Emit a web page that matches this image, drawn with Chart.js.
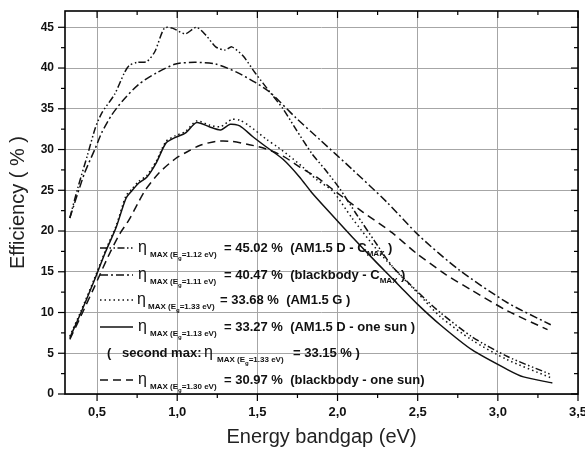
<!DOCTYPE html>
<html>
<head>
<meta charset="utf-8">
<script src="https://cdn.jsdelivr.net/npm/chart.js@4.4.1/dist/chart.umd.min.js"></script>
<style>
  html, body { margin: 0; padding: 0; background: #fff; }
</style>
</head>
<body>
<canvas id="myChart" width="585" height="451"></canvas>
<script>
// values: bandgap (eV) / efficiency (%)
const egAM15DCmax = [0.33,0.38,0.44,0.49,0.53,0.61,0.67,0.70,0.75,0.81,0.86,0.92,0.97,1.05,1.12,1.18,1.24,1.30,1.34,1.41,1.49,1.58,1.66,1.74,1.84,1.92,2.01,2.12,2.23,2.34,2.45,2.55,2.64,2.84,3.06,3.33]
const effAM15DCmax = [21.6,25.3,29.3,32.7,34.5,36.8,39.4,40.3,40.7,40.8,42.0,44.9,44.9,44.2,45.0,44.0,42.6,42.2,42.6,41.5,39.3,37.0,35.0,32.5,29.5,27.6,25.3,22.0,18.8,15.7,13.5,11.6,10.0,7.0,4.6,2.4]

const egBBCmax = [0.33,0.42,0.49,0.53,0.59,0.66,0.76,0.87,0.99,1.11,1.24,1.37,1.49,1.58,1.74,1.89,2.09,2.31,2.51,2.76,3.06,3.33]
const effBBCmax = [21.6,27.0,30.2,32.1,34.2,36.0,38.0,39.4,40.5,40.7,40.5,39.5,38.2,37.0,33.9,31.2,27.6,23.5,19.4,15.2,11.2,8.5]

const egAM15G = [0.33,0.40,0.48,0.55,0.62,0.68,0.72,0.76,0.81,0.87,0.93,0.99,1.05,1.12,1.20,1.27,1.34,1.39,1.45,1.56,1.62,1.70,1.78,1.87,1.97,2.09,2.25,2.39,2.50,2.64,2.84,3.06,3.33]
const effAM15G = [7.1,10.2,14.0,17.5,20.7,24.3,25.2,26.1,26.8,28.6,31.0,31.7,32.2,33.5,33.0,32.8,33.7,33.6,32.9,31.2,30.4,29.2,27.9,26.3,24.9,21.6,17.6,14.6,12.4,9.5,6.6,4.2,2.0]

const egAM15D1sun = [0.33,0.40,0.48,0.55,0.62,0.68,0.72,0.76,0.81,0.87,0.93,0.99,1.05,1.12,1.20,1.27,1.33,1.39,1.47,1.55,1.66,1.76,1.84,1.95,2.09,2.25,2.39,2.50,2.64,2.84,3.06,3.16,3.34]
const effAM15D1sun = [6.9,10.0,13.8,17.3,20.5,24.0,25.0,25.9,26.6,28.4,30.8,31.5,32.0,33.3,32.8,32.4,33.1,32.9,31.6,30.4,28.8,26.7,24.7,22.3,19.3,16.0,13.2,11.0,8.5,5.4,3.0,2.1,1.35]

const egBB1sun = [0.33,0.40,0.48,0.57,0.64,0.70,0.76,0.80,0.89,0.99,1.06,1.14,1.24,1.34,1.45,1.55,1.66,1.76,1.87,1.99,2.16,2.34,2.49,2.68,2.84,3.06,3.31]
const effBB1sun = [6.7,9.6,13.0,16.9,19.6,21.4,23.6,25.0,27.2,28.9,29.7,30.5,31.0,31.0,30.6,30.1,29.2,27.9,26.6,24.8,22.3,19.8,17.3,14.6,12.7,10.2,7.9]

const xMajorTicks = [0.5,1.0,1.5,2.0,2.5,3.0,3.5]
const xTickLabels = ['0,5','1,0','1,5','2,0','2,5','3,0','3,5']
const xMinorTicks = [0.75,1.25,1.75,2.25,2.75,3.25]
const yMajorTicks = [0,5,10,15,20,25,30,35,40,45]
const yTickLabels = ['0','5','10','15','20','25','30','35','40','45']
const yMinorTicks = [2.5,7.5,12.5,17.5,22.5,27.5,32.5,37.5,42.5]

// legend texts
const legendEg = ['1.12','1.11','1.33','1.13','1.33','1.30']
const legendEta = ['45.02','40.47','33.68','33.27','33.15','30.97']

const pts = (xs, ys) => xs.map((x, i) => ({x: x, y: ys[i]}))

const dashDotDot = [7,2.5,1.5,2.5,1.5,2.5]
const dashDot = [8,3,2,3]
const dotted = [1.5,3]
const dashed = [8,5]

const lineDs = (label, data, dash) => ({
  label: label, data: data, borderColor: '#111', borderWidth: 1.5,
  borderDash: dash, pointRadius: 0, tension: 0.25, fill: false
})

const data = {
  datasets: [
    lineDs('AM1.5 D - Cmax', pts(egAM15DCmax, effAM15DCmax), dashDotDot),
    lineDs('blackbody - Cmax', pts(egBBCmax, effBBCmax), dashDot),
    lineDs('AM1.5 G', pts(egAM15G, effAM15G), dotted),
    lineDs('AM1.5 D - one sun', pts(egAM15D1sun, effAM15D1sun), []),
    lineDs('blackbody - one sun', pts(egBB1sun, effBB1sun), dashed)
  ]
}

const FONT = '"Liberation Sans", Arial, sans-serif'
const bold = s => 'bold ' + s + 'px ' + FONT

function seq(ctx, x, y, parts) {
  parts.forEach(p => {
    ctx.font = p[1]
    ctx.fillText(p[0], x, y + (p[2] || 0))
    x += ctx.measureText(p[0]).width
  })
  return x
}

function etaSub(ctx, x, y, eg) {
  return seq(ctx, x, y, [['MAX (E', bold(8), 7], ['g', bold(6), 10], ['=' + eg + ' eV)', bold(8), 7]])
}

const legendPlugin = {
  id: 'legendBox',
  afterDraw(chart) {
    const ctx = chart.ctx
    ctx.save()
    ctx.fillStyle = '#111'
    ctx.textBaseline = 'middle'
    const rowY = [248, 275, 300, 327, 353, 380]
    const rowDs = [0, 1, 2, 3, null, 4]
    const tails = [
      [['= ' + legendEta[0] + ' %  (AM1.5 D - C', bold(13)], ['MAX', bold(8), 6], [' )', bold(13)]],
      [['= ' + legendEta[1] + ' %  (blackbody - C', bold(13)], ['MAX', bold(8), 6], [' )', bold(13)]],
      [['= ' + legendEta[2] + ' %  (AM1.5 G )', bold(13)]],
      [['= ' + legendEta[3] + ' %  (AM1.5 D - one sun )', bold(13)]],
      [['= ' + legendEta[4] + ' % )', bold(13)]],
      [['= ' + legendEta[5] + ' %  (blackbody - one sun)', bold(13)]]
    ]
    rowY.forEach((y, i) => {
      const di = rowDs[i]
      if (di !== null) {
        const ds = chart.data.datasets[di]
        ctx.strokeStyle = '#111'
        ctx.lineWidth = 1.5
        ctx.setLineDash(ds.borderDash)
        ctx.beginPath(); ctx.moveTo(100, y); ctx.lineTo(133, y); ctx.stroke()
        ctx.setLineDash([])
      }
      if (i === 4) {
        seq(ctx, 107, y, [['(', bold(13)]])
        seq(ctx, 122, y, [['second max:', bold(13)]])
        seq(ctx, 204, y, [['\u03b7', '16px ' + FONT]])
        etaSub(ctx, 217, y, legendEg[i])
        seq(ctx, 293, y, tails[i])
      } else {
        const ex = i === 2 ? 137 : 138
        seq(ctx, ex, y, [['\u03b7', '16px ' + FONT]])
        etaSub(ctx, i === 2 ? 148 : 150, y, legendEg[i])
        seq(ctx, i === 2 ? 220 : 224, y, tails[i])
      }
    })
    ctx.restore()
  }
}

const framePlugin = {
  id: 'frame',
  afterDraw(chart) {
    const {ctx, chartArea: a, scales: {x, y}} = chart
    ctx.save()
    ctx.strokeStyle = '#000'
    ctx.lineWidth = 1.2
    const seg = (x1, y1, x2, y2) => { ctx.beginPath(); ctx.moveTo(x1, y1); ctx.lineTo(x2, y2); ctx.stroke() }
    xMajorTicks.forEach(v => { const p = x.getPixelForValue(v); seg(p, a.bottom, p, a.bottom + 7); seg(p, a.top, p, a.top + 7) })
    xMinorTicks.forEach(v => { const p = x.getPixelForValue(v); seg(p, a.bottom, p, a.bottom + 4); seg(p, a.top, p, a.top + 4) })
    yMajorTicks.forEach(v => { const p = y.getPixelForValue(v); seg(a.left - 7, p, a.left, p); seg(a.right - 7, p, a.right, p) })
    yMinorTicks.forEach(v => { const p = y.getPixelForValue(v); seg(a.left - 4, p, a.left, p); seg(a.right - 4, p, a.right, p) })
    ctx.lineWidth = 1.6
    ctx.strokeRect(a.left, a.top, a.right - a.left, a.bottom - a.top)
    ctx.restore()
  }
}

// drop the label overhang padding so the plot box sits where the original one does
const noPad = s => { s.paddingTop = 0; s.paddingBottom = 0; s.paddingLeft = 0; s.paddingRight = 0 }

const config = {
  type: 'line',
  data: data,
  options: {
    responsive: false,
    animation: false,
    layout: { padding: { left: 0, right: 7, top: 11, bottom: 0 } },
    plugins: { legend: { display: false }, tooltip: { enabled: false } },
    scales: {
      x: {
        type: 'linear', min: 0.3, max: 3.5,
        afterBuildTicks: s => { s.ticks = xMajorTicks.map(v => ({value: v})) },
        afterFit: s => { s.height = 57; noPad(s) },
        grid: { color: '#a6a6a6', lineWidth: 1, drawTicks: false },
        border: { display: false },
        ticks: { color: '#111', font: { family: FONT, size: 13, weight: 'bold' }, padding: 11, maxRotation: 0,
          callback: (v, i) => xTickLabels[i] },
        title: { display: true, text: 'Energy bandgap (eV)', color: '#222',
          font: { family: FONT, size: 20 }, padding: { top: 0, bottom: 2 } }
      },
      y: {
        min: 0, max: 47,
        afterBuildTicks: s => { s.ticks = yMajorTicks.map(v => ({value: v})) },
        afterFit: s => { s.width = 65; noPad(s) },
        grid: { color: '#a6a6a6', lineWidth: 1, drawTicks: false },
        border: { display: false },
        ticks: { color: '#111', font: { family: FONT, size: 12, weight: 'bold' }, padding: 11,
          callback: (v, i) => yTickLabels[i] },
        title: { display: true, text: 'Efficiency ( % )', color: '#222',
          font: { family: FONT, size: 20 }, padding: { top: 6, bottom: 0 } }
      }
    }
  },
  plugins: [framePlugin, legendPlugin]
}

const myChart = new Chart(document.getElementById('myChart'), config)
</script>
</body>
</html>
